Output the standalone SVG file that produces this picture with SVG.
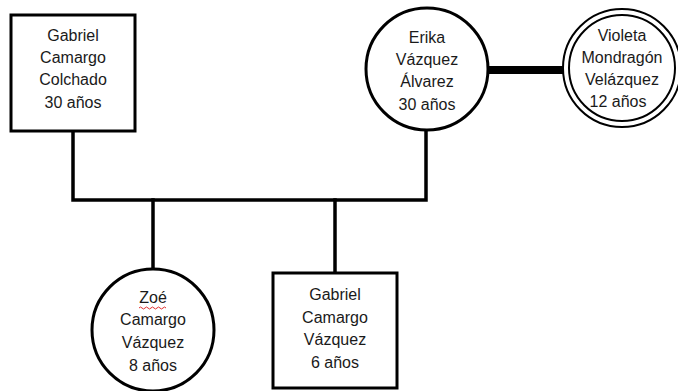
<svg xmlns="http://www.w3.org/2000/svg" width="678" height="391" viewBox="0 0 678 391">
<style>
.box{fill:#fff;stroke:#000;stroke-width:3}
.circ{fill:#fff;stroke:#000;stroke-width:3}
.dbl{fill:#fff;stroke:#000;stroke-width:2}
.ln{fill:none;stroke:#000;stroke-width:3.5;stroke-linejoin:miter;stroke-linecap:square}
.t{font-family:"Liberation Sans",Arial,sans-serif;font-size:16px;fill:#1a1a1a;text-anchor:middle}
</style>
<rect width="678" height="391" fill="#fff"/>
<g id="connectors">
<path class="ln" d="M73,131 V200 H426 V131"/>
<path class="ln" d="M153,200 V268"/>
<path class="ln" d="M335,200 V273"/>
<path d="M488,70 H565" stroke="#000" stroke-width="8" fill="none"/>
</g>
<g id="gabriel-padre">
<rect class="box" x="11" y="15" width="124" height="116"/>
<text class="t" x="73" y="41">Gabriel</text>
<text class="t" x="73" y="63">Camargo</text>
<text class="t" x="73" y="85">Colchado</text>
<text class="t" x="73" y="108">30 años</text>
</g>
<g id="erika">
<circle class="circ" cx="427" cy="69" r="61"/>
<text class="t" x="427" y="43">Erika</text>
<text class="t" x="427" y="65">Vázquez</text>
<text class="t" x="427" y="87">Álvarez</text>
<text class="t" x="427" y="110">30 años</text>
</g>
<g id="violeta">
<circle class="dbl" cx="622" cy="68" r="59"/>
<circle class="dbl" cx="622" cy="68" r="53"/>
<text class="t" x="622" y="41">Violeta</text>
<text class="t" x="622" y="63">Mondragón</text>
<text class="t" x="622" y="85">Velázquez</text>
<text class="t" x="618" y="107">12 años</text>
</g>
<g id="zoe">
<circle class="circ" cx="153" cy="330" r="61"/>
<text class="t" x="153" y="303">Zoé</text>
<path d="M139,308 q1.5,-2 3,0 t3,0 t3,0 t3,0 t3,0 t3,0 t3,0 t3,0 t3,0" fill="none" stroke="#e03030" stroke-width="1"/>
<text class="t" x="153" y="325">Camargo</text>
<text class="t" x="153" y="348">Vázquez</text>
<text class="t" x="153" y="371">8 años</text>
</g>
<g id="gabriel-hijo">
<rect class="box" x="273" y="273" width="124" height="115"/>
<text class="t" x="335" y="300">Gabriel</text>
<text class="t" x="335" y="323">Camargo</text>
<text class="t" x="335" y="345">Vázquez</text>
<text class="t" x="335" y="368">6 años</text>
</g>
</svg>
